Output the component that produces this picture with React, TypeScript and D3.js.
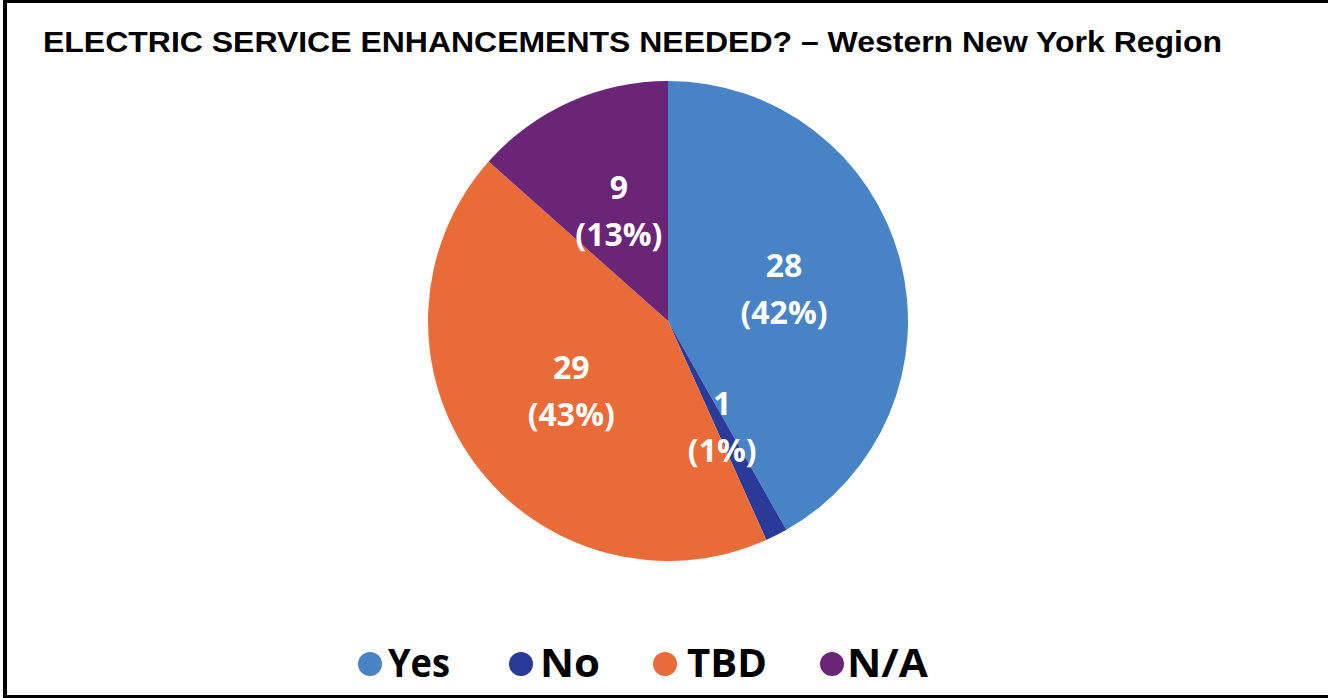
import React from "react";
import * as d3 from "d3";

const categories = ["Yes", "No", "TBD", "N/A"];
const values = [28, 1, 29, 9];
const colors = ["#4783C5", "#2A3A98", "#E96B38", "#6A2576"];
const title = "ELECTRIC SERVICE ENHANCEMENTS NEEDED? \u2013 Western New York Region";

const W = 1328;
const H = 698;
const cx = 668;
const cy = 321;
const R = 240;
const labelR = 120;

const legendDotX = [370, 521, 665, 832];
const legendTextX = [388, 540, 687, 847];
const legendTextW = [62, 60, 80, 81];

export default function App() {
  const total = d3.sum(values);
  const pie = d3.pie<number>().sort(null).value((d) => d)(values);
  const arc = d3.arc<d3.PieArcDatum<number>>().innerRadius(0).outerRadius(R);
  const labelArc = d3.arc<d3.PieArcDatum<number>>().innerRadius(labelR).outerRadius(labelR);

  return (
    <svg
      width={W}
      height={H}
      style={{ position: "absolute", left: 0, top: 0, background: "#fff" }}
    >
      <rect x={0} y={0} width={W} height={H} fill="#fff" />
      <line x1={5} y1={0} x2={5} y2={H} stroke="#000" strokeWidth={4} />
      <line x1={3} y1={1.5} x2={W} y2={1.5} stroke="#000" strokeWidth={3} />
      <line x1={3} y1={696.5} x2={W} y2={696.5} stroke="#000" strokeWidth={3} />

      <text
        x={43}
        y={52}
        fontFamily="'Liberation Sans', Arial, sans-serif"
        fontWeight="bold"
        fontSize={29}
        fill="#000"
        textLength={1179}
        lengthAdjust="spacingAndGlyphs"
      >
        {title}
      </text>

      <g transform={`translate(${cx},${cy})`}>
        {pie.map((p, i) => (
          <path key={categories[i]} d={arc(p) || ""} fill={colors[i]} />
        ))}
        {pie.map((p, i) => {
          const [lx, ly] = labelArc.centroid(p);
          const pct = Math.round((values[i] / total) * 100);
          return (
            <text
              key={"l" + i}
              x={lx}
              y={ly}
              fill="#fff"
              fontFamily="'Open Sans', sans-serif"
              fontWeight="bold"
              fontSize={32}
              textAnchor="middle"
            >
              <tspan x={lx} dy={-13}>{values[i]}</tspan>
              <tspan x={lx} dy={47}>{`(${pct}%)`}</tspan>
            </text>
          );
        })}
      </g>

      <g>
        {categories.map((c, i) => (
          <g key={"lg" + c}>
            <circle cx={legendDotX[i]} cy={664} r={12} fill={colors[i]} />
            <text
              x={legendTextX[i]}
              y={677}
              fontFamily="'Open Sans', sans-serif"
              fontWeight="bold"
              fontSize={39}
              fill="#000"
              textLength={legendTextW[i]}
              lengthAdjust="spacingAndGlyphs"
            >
              {c}
            </text>
          </g>
        ))}
      </g>
    </svg>
  );
}
